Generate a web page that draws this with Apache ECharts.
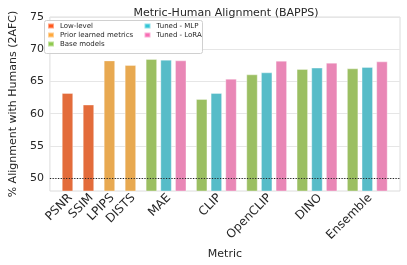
<!DOCTYPE html>
<html>
<head>
<meta charset="utf-8">
<script src="https://cdn.jsdelivr.net/npm/echarts@6/dist/echarts.min.js"></script>
<style>html,body{margin:0;padding:0;background:#fff}#c{width:407px;height:265px}</style>
</head>
<body>
<div id="c"></div>
<script>
// ---- data ----
const categories = ['PSNR', 'SSIM', 'LPIPS', 'DISTS', 'MAE', 'CLIP', 'OpenCLIP', 'DINO', 'Ensemble'];
const lowLevelCats = ['PSNR', 'SSIM'];
const lowLevel = [63.2, 61.4];
const priorCats = ['LPIPS', 'DISTS'];
const priorLearned = [68.25, 67.55];
const modelCats = ['MAE', 'CLIP', 'OpenCLIP', 'DINO', 'Ensemble'];
const baseModels = [68.48, 62.27, 66.09, 66.93, 67.02];
const tunedMLP = [68.37, 63.2, 66.4, 67.13, 67.24];
const tunedLoRA = [68.26, 65.42, 68.21, 67.9, 68.1];
const yTicks = [50, 55, 60, 65, 70, 75];
const chanceLevel = 50;
const seriesNames = ['Low-level', 'Prior learned metrics', 'Base models', 'Tuned - MLP', 'Tuned - LoRA'];

// ---- layout of slots (bar step = 1 unit, gap between categories) ----
const STEP = 1, GAP = 1.43, LABEL_SHIFT = 0.2;
const barsPer = {};
categories.forEach(c => { barsPer[c] = modelCats.includes(c) ? 3 : 1; });
const slot = {};
let cursor = 0;
categories.forEach((c, i) => {
  if (i > 0) cursor += GAP;
  const arr = [];
  for (let b = 0; b < barsPer[c]; b++) arr.push(+(cursor + b * STEP).toFixed(4));
  slot[c] = arr;
  cursor = arr[arr.length - 1];
});
const labelPos = categories.map(c => +(slot[c][Math.floor(slot[c].length / 2)] + LABEL_SHIFT).toFixed(4));
const labelMap = {};
categories.forEach((c, i) => { labelMap[labelPos[i].toFixed(3)] = c; });

const barColors = ['#E36C3B', '#E8A951', '#9BBF62', '#57BCC8', '#E987B6'];
const legendColors = ['#FF5A1F', '#FFA93E', '#8FC94F', '#33C6D6', '#F76DB4'];

const dataSets = [
  lowLevelCats.map((c, i) => [slot[c][0], lowLevel[i]]),
  priorCats.map((c, i) => [slot[c][0], priorLearned[i]]),
  modelCats.map((c, i) => [slot[c][0], baseModels[i]]),
  modelCats.map((c, i) => [slot[c][1], tunedMLP[i]]),
  modelCats.map((c, i) => [slot[c][2], tunedLoRA[i]])
];

const font = 'DejaVu Sans';
const txt = '#262626';

const series = seriesNames.map((n, k) => ({
  name: n,
  type: 'bar',
  barWidth: 11.3,
  barGap: '-100%',
  data: dataSets[k],
  itemStyle: { color: barColors[k], borderColor: 'rgba(255,255,255,0.45)', borderWidth: 0.8 },
  markLine: k === 0 ? {
    silent: true, symbol: 'none', label: { show: false },
    lineStyle: { color: '#222', type: [1.2, 1.5], width: 1 },
    data: [{ yAxis: chanceLevel }]
  } : undefined
}));

const chart = echarts.init(document.getElementById('c'), null, { renderer: 'canvas' });
chart.setOption({
  animation: false,
  backgroundColor: '#fff',
  title: {
    text: 'Metric-Human Alignment (BAPPS)',
    left: 221, top: 3, textAlign: 'center',
    textStyle: { fontFamily: font, fontSize: 11, fontWeight: 'normal', color: txt }
  },
  grid: { left: 41, right: 7, top: 17, bottom: 74, show: true, borderColor: '#dcdcdc', borderWidth: 1 },
  graphic: [{
    type: 'rect', z: 50,
    shape: { x: 44.5, y: 20.5, width: 158, height: 33, r: 2 },
    style: { fill: 'rgba(255,255,255,0.85)', stroke: '#d0d0d0', lineWidth: 1 }
  }],
  legend: [
    {
      z: 60, orient: 'vertical', left: 47, top: 22.5, padding: 0, itemGap: 2,
      itemWidth: 6, itemHeight: 5, icon: 'rect',
      textStyle: { fontFamily: font, fontSize: 7, color: txt, padding: [0, 0, 0, 1] },
      data: seriesNames.slice(0, 3).map((n, k) => ({ name: n, itemStyle: { color: legendColors[k] } }))
    },
    {
      z: 60, orient: 'vertical', left: 143.5, top: 22.5, padding: 0, itemGap: 2,
      itemWidth: 6, itemHeight: 5, icon: 'rect',
      textStyle: { fontFamily: font, fontSize: 7, color: txt, padding: [0, 0, 0, 1] },
      data: seriesNames.slice(3).map((n, k) => ({ name: n, itemStyle: { color: legendColors[k + 3] } }))
    }
  ],
  xAxis: {
    type: 'value',
    min: -1.2,
    max: cursor + 1.23,
    name: 'Metric', nameLocation: 'middle', nameGap: 57,
    nameTextStyle: { fontFamily: font, fontSize: 11, color: txt },
    axisLine: { show: false },
    axisTick: { show: false, customValues: labelPos },
    splitLine: { show: false },
    axisLabel: {
      customValues: labelPos,
      rotate: 45, margin: 5,
      fontFamily: font, fontSize: 12, color: txt,
      formatter: v => labelMap[(+v).toFixed(3)] || ''
    }
  },
  yAxis: {
    type: 'value',
    min: 48, max: 75,
    name: '% Alignment with Humans (2AFC)', nameLocation: 'middle', nameGap: 25,
    nameTextStyle: { fontFamily: font, fontSize: 11, color: txt },
    axisLine: { show: false },
    axisTick: { show: false, customValues: yTicks },
    axisLabel: { customValues: yTicks, margin: 6, fontFamily: font, fontSize: 11, color: txt },
    splitLine: { show: true, lineStyle: { color: '#e6e6e6', width: 1 } }
  },
  series: series
});
</script>
</body>
</html>
